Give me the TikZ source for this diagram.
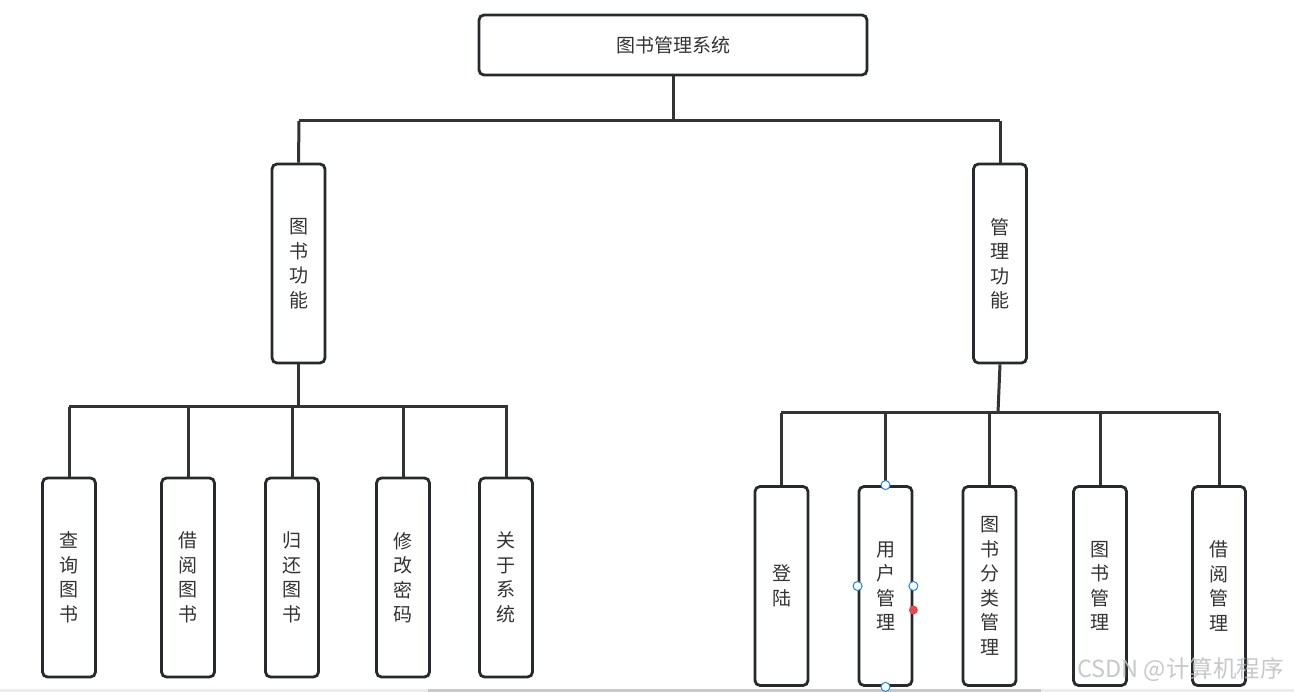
\documentclass[tikz,border=0pt]{standalone}
\usepackage{fontspec}
\setmainfont{Noto Sans CJK SC}
\newfontfamily\cjk{Noto Sans CJK SC}
\definecolor{boxline}{HTML}{262A2E}
\definecolor{conn}{HTML}{333333}
\definecolor{txt}{HTML}{333333}
\definecolor{handle}{HTML}{1E88E5}
\definecolor{reddot}{HTML}{E64B4B}
\definecolor{barlight}{HTML}{ECECEC}
\definecolor{bardark}{HTML}{C8C8C8}
\tikzset{
  boxbase/.style={draw=boxline, line width=2.8pt, rounded corners=5pt, fill=white, text=txt, inner sep=0pt, align=center},
  topbox/.style={boxbase, minimum width=388pt, minimum height=60pt, font=\cjk\fontsize{19}{22}\selectfont},
  vbox/.style={boxbase, minimum width=53pt, minimum height=199pt, font=\cjk\fontsize{19}{24.5}\selectfont},
  link/.style={draw=conn, line width=3pt},
  sel/.style={draw=handle, fill=white, line width=1pt},
}
\begin{document}
\begin{tikzpicture}[x=1pt,y=-1pt]
\useasboundingbox (0,0) rectangle (1294,692);
\fill[white] (0,0) rectangle (1294,692);
% bottom bar
\fill[barlight] (0,689) rectangle (1294,692);
\fill[bardark] (428,689) rectangle (1041,692);

% nodes
\node[topbox] (top) at (673,45) {图书管理系统};
\node[vbox] (lmid) at (298.5,263.5) {图\\书\\功\\能};
\node[vbox] (rmid) at (1000,263.5) {管\\理\\功\\能};

\node[vbox] (l1) at (69,577.5) {查\\询\\图\\书};
\node[vbox] (l2) at (188,577.5) {借\\阅\\图\\书};
\node[vbox] (l3) at (292,577.5) {归\\还\\图\\书};
\node[vbox] (l4) at (403,577.5) {修\\改\\密\\码};
\node[vbox] (l5) at (506,577.5) {关\\于\\系\\统};

\node[vbox] (r1) at (781.5,586) {登\\陆};
\node[vbox] (r2) at (885.5,586) {用\\户\\管\\理};
\node[vbox] (r3) at (989.5,586) {图\\书\\分\\类\\管\\理};
\node[vbox] (r4) at (1100,586) {图\\书\\管\\理};
\node[vbox] (r5) at (1219,586) {借\\阅\\管\\理};

% bus coordinates
\coordinate (h1L) at (299,121);
\coordinate (h1R) at (1000,121);
\coordinate (b1L) at (69,407);
\coordinate (b1R) at (508,407);
\coordinate (b2L) at (781,413);
\coordinate (b2R) at (1219,413);
\coordinate (b2M) at (998,413);

% top level connectors
\draw[link] (top.south) -- (top.south |- h1L);
\draw[link] (h1L) -- (h1R);
\draw[link] (h1L) -- (lmid.north);
\draw[link] (h1R) -- (rmid.north);

% left group
\draw[link] (lmid.south) -- (lmid.south |- b1L);
\draw[link] (b1L) -- (b1R);
\foreach \c in {l1,l2,l3,l4,l5} {
  \draw[link] (\c.north |- b1L) -- (\c.north);
}

% right group
\draw[link] (rmid.south) -- (b2M);
\draw[link] (b2L) -- (b2R);
\foreach \c in {r1,r2,r3,r4,r5} {
  \draw[link] (\c.north |- b2L) -- (\c.north);
}

% selection handles on 用户管理
\draw[sel] (r2.north) circle (4.5pt);
\draw[sel] (r2.south) circle (4.5pt);
\draw[sel] (r2.west) circle (4.5pt);
\draw[sel] (r2.east) circle (4.5pt);
\fill[reddot] ([yshift=-24pt]r2.east) circle (4.5pt);

% watermark
\node[anchor=west, text=gray!50, opacity=0.85, inner sep=0pt, font=\cjk\fontsize{23.5}{26}\selectfont] (wm) at (1077,670) {CSDN @计算机程序};
\end{tikzpicture}
\end{document}
